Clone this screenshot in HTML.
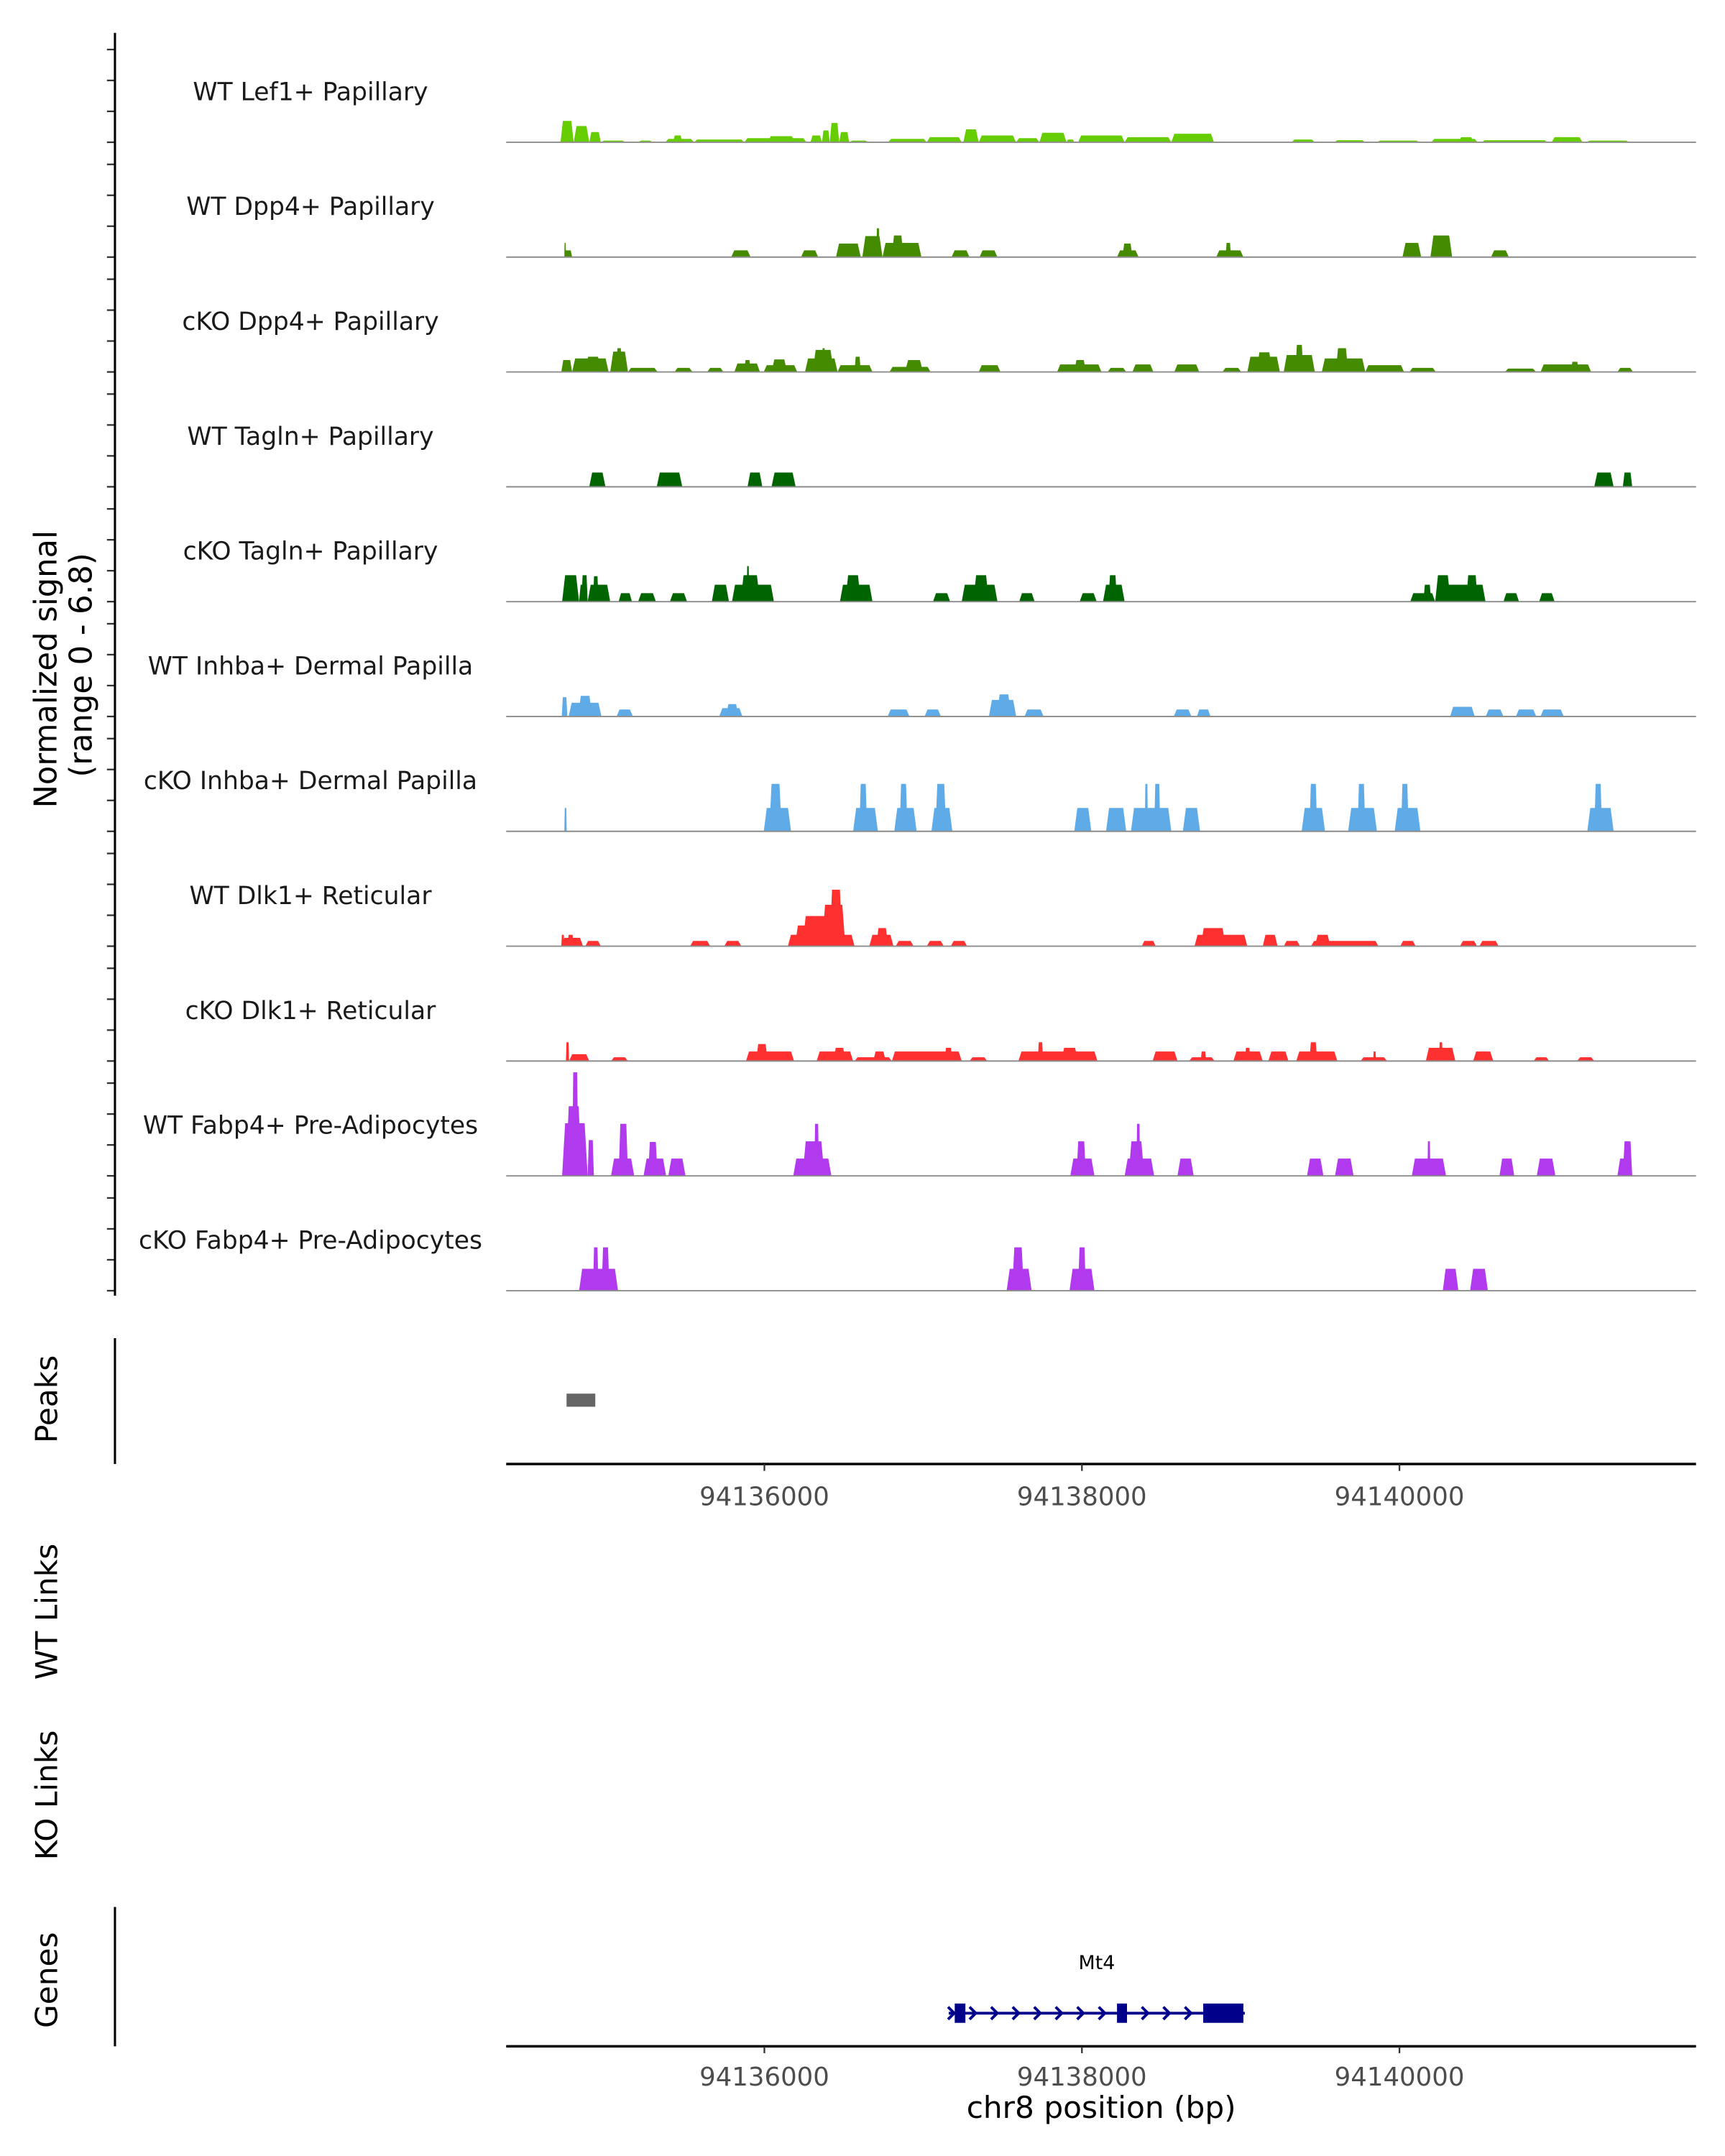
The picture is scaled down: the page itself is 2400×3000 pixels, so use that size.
<!DOCTYPE html>
<html><head><meta charset="utf-8"><style>
html,body{margin:0;padding:0;background:#fff}
svg{display:block}
text{font-family:"DejaVu Sans","Liberation Sans",sans-serif}
</style></head><body>
<svg id="chart" xmlns="http://www.w3.org/2000/svg" width="2400" height="3000" viewBox="0 0 1250 1562.5">
<g>
<text x="41" y="485" transform="rotate(-90 41 485)" text-anchor="middle" font-size="22.5" fill="#000">Normalized signal</text>
<text x="66.5" y="482" transform="rotate(-90 66.5 482)" text-anchor="middle" font-size="22.5" fill="#000">(range 0 - 6.8)</text>
</g>
<g id="tracks"></g>
<g id="axes"></g>
</svg>
<script>
const trackNames = ["WT Lef1+ Papillary","WT Dpp4+ Papillary","cKO Dpp4+ Papillary","WT Tagln+ Papillary","cKO Tagln+ Papillary","WT Inhba+ Dermal Papilla","cKO Inhba+ Dermal Papilla","WT Dlk1+ Reticular","cKO Dlk1+ Reticular","WT Fabp4+ Pre-Adipocytes","cKO Fabp4+ Pre-Adipocytes"];
const trackColors = ["#66cd00","#458b00","#458b00","#006400","#006400","#5eabe8","#5eabe8","#ff3030","#ff3030","#b23aee","#b23aee"];
const wtLef1 = [[94134716,94134799,1.26],[94134799,94134897,0.96],[94134897,94134970,0.6],[94134970,94135126,0.1],[94135205,94135297,0.1],[94135376,94135557,0.2],[94135425,94135483,0.4],[94135557,94135874,0.16],[94135874,94136265,0.24],[94136021,94136192,0.36],[94136290,94136363,0.4],[94136363,94136412,0.7],[94136412,94136471,1.14],[94136471,94136534,0.6],[94136534,94136656,0.1],[94136779,94137023,0.2],[94137023,94137243,0.3],[94137253,94137350,0.76],[94137350,94137585,0.4],[94137585,94137732,0.24],[94137732,94137903,0.56],[94137903,94137952,0.16],[94137976,94138269,0.4],[94138269,94138563,0.3],[94138563,94138832,0.5],[94139320,94139467,0.16],[94139589,94139785,0.12],[94139858,94140127,0.1],[94140200,94140493,0.2],[94140371,94140469,0.3],[94140518,94140933,0.12],[94140958,94141153,0.3],[94141178,94141447,0.1]];
const wtDpp4 = [[94134740,94134789,0.4],[94134740,94134750,0.84],[94135791,94135913,0.4],[94136231,94136339,0.4],[94136451,94136607,0.8],[94136617,94136744,1.24],[94136705,94136725,1.7],[94136744,94136989,0.84],[94136803,94136876,1.28],[94137179,94137292,0.4],[94137355,94137468,0.4],[94138221,94138357,0.4],[94138255,94138318,0.8],[94138846,94139017,0.4],[94138905,94138939,0.84],[94140019,94140137,0.84],[94140195,94140332,1.28],[94140577,94140689,0.4]];
const ckoDpp4 = [[94134721,94134789,0.7],[94134789,94135019,0.8],[94134872,94134970,0.9],[94135029,94135141,1.2],[94135068,94135102,1.4],[94135141,94135327,0.24],[94135434,94135547,0.24],[94135640,94135742,0.24],[94135811,94135972,0.5],[94135874,94135913,0.7],[94135996,94136207,0.4],[94136045,94136143,0.74],[94136256,94136461,0.8],[94136304,94136436,1.3],[94136363,94136383,1.4],[94136461,94136681,0.4],[94136568,94136607,0.9],[94136788,94137047,0.3],[94136886,94136999,0.7],[94137350,94137487,0.4],[94137844,94138123,0.44],[94137952,94138025,0.7],[94138162,94138279,0.24],[94138318,94138450,0.44],[94138582,94138739,0.44],[94138885,94139003,0.24],[94139042,94139247,0.9],[94139100,94139198,1.16],[94139271,94139467,1.0],[94139345,94139394,1.6],[94139511,94139785,0.8],[94139599,94139677,1.4],[94139785,94140029,0.4],[94140063,94140229,0.24],[94140665,94140860,0.2],[94140889,94141207,0.44],[94141080,94141129,0.6],[94141373,94141471,0.24]];
const wtTagln = [[94134897,94134999,0.84],[94135322,94135483,0.84],[94135894,94135987,0.84],[94136045,94136197,0.84],[94141227,94141349,0.84],[94141407,94141466,0.84]];
const ckoTagln = [[94134726,94134833,1.56],[94134833,94134887,1.0],[94134848,94134887,1.56],[94134887,94135029,1.0],[94134921,94134955,1.5],[94135082,94135166,0.5],[94135205,94135317,0.5],[94135405,94135513,0.5],[94135669,94135777,1.0],[94135796,94136060,1.0],[94135850,94135972,1.56],[94135889,94135904,2.1],[94136476,94136681,1.0],[94136510,94136607,1.56],[94137062,94137170,0.5],[94137243,94137468,1.0],[94137316,94137414,1.56],[94137605,94137702,0.5],[94137986,94138093,0.5],[94138133,94138269,1.0],[94138167,94138221,1.56],[94140068,94140225,0.5],[94140151,94140200,1.0],[94140225,94140542,1.0],[94140225,94140322,1.56],[94140420,94140493,1.56],[94140655,94140753,0.5],[94140880,94140977,0.5]];
const wtInhba = [[94134724,94134759,1.14],[94134767,94134974,0.81],[94134828,94134914,1.22],[94135069,94135172,0.41],[94135716,94135862,0.49],[94135759,94135836,0.73],[94136776,94136914,0.41],[94137009,94137112,0.41],[94137414,94137586,0.98],[94137466,94137552,1.3],[94137638,94137759,0.41],[94138578,94138690,0.41],[94138724,94138810,0.41],[94140319,94140474,0.57],[94140543,94140655,0.41],[94140733,94140862,0.41],[94140888,94141035,0.41]];
const ckoInhba = [[94134740,94134755,1.38],[94135996,94136168,1.38],[94136031,94136109,2.8],[94136559,94136715,1.38],[94136598,94136647,2.8],[94136818,94136959,1.38],[94136852,94136901,2.8],[94137052,94137184,1.38],[94137077,94137145,2.8],[94137952,94138059,1.38],[94138152,94138279,1.38],[94138309,94138563,1.38],[94138396,94138416,2.8],[94138455,94138494,2.8],[94138636,94138744,1.38],[94139384,94139531,1.38],[94139433,94139482,2.8],[94139677,94139858,1.38],[94139736,94139785,2.8],[94139970,94140132,1.38],[94140010,94140058,2.8],[94141183,94141349,1.38],[94141227,94141276,2.8]];
const wtDlk1 = [[94134721,94134858,0.49],[94134721,94134740,0.67],[94134760,94134799,0.67],[94134872,94134970,0.31],[94135532,94135659,0.31],[94135747,94135855,0.31],[94136148,94136568,0.67],[94136192,94136510,1.22],[94136241,94136412,1.78],[94136363,94136510,2.44],[94136412,94136490,3.33],[94136661,94136813,0.67],[94136705,94136779,1.07],[94136827,94136940,0.31],[94137023,94137130,0.31],[94137174,94137277,0.31],[94138377,94138465,0.31],[94138709,94139042,0.67],[94138748,94138905,1.07],[94139139,94139232,0.67],[94139271,94139374,0.31],[94139443,94139868,0.31],[94139467,94139565,0.67],[94140005,94140102,0.31],[94140381,94140489,0.31],[94140503,94140625,0.31]];
const ckoDlk1 = [[94134750,94134770,1.11],[94134770,94134897,0.4],[94135034,94135141,0.22],[94135884,94136187,0.56],[94135948,94136021,1.0],[94136329,94136559,0.56],[94136436,94136510,0.78],[94136568,94136803,0.22],[94136686,94136764,0.56],[94136803,94137243,0.56],[94137135,94137184,0.78],[94137292,94137404,0.22],[94137600,94138098,0.56],[94137722,94137756,1.11],[94137869,94137976,0.78],[94138445,94138602,0.56],[94138675,94138836,0.22],[94138748,94138783,0.56],[94138954,94139139,0.56],[94139027,94139061,0.78],[94139174,94139301,0.56],[94139350,94139609,0.56],[94139433,94139482,1.11],[94139755,94139922,0.22],[94139834,94139853,0.56],[94140166,94140352,0.78],[94140249,94140273,1.11],[94140464,94140591,0.56],[94140845,94140943,0.22],[94141119,94141227,0.22]];
const wtFabp4 = [[94134726,94134887,3.11],[94134750,94134848,4.11],[94134789,94134828,6.11],[94134887,94134926,2.11],[94135034,94135180,1.02],[94135082,94135141,3.07],[94135239,94135381,1.02],[94135268,94135327,2.0],[94135395,94135503,1.02],[94136182,94136422,1.02],[94136241,94136378,2.04],[94136314,94136344,3.07],[94137927,94138079,1.02],[94137966,94138025,2.04],[94138269,94138455,1.02],[94138294,94138392,2.04],[94138343,94138367,3.07],[94138602,94138704,1.02],[94139418,94139521,1.02],[94139594,94139711,1.02],[94140078,94140293,1.02],[94140176,94140195,2.04],[94140630,94140723,1.02],[94140865,94140982,1.02],[94141373,94141466,1.02],[94141407,94141466,2.04]];
const ckoFabp4 = [[94134833,94135078,1.29],[94134921,94134955,2.56],[94134975,94135024,2.56],[94137526,94137683,1.29],[94137561,94137634,2.56],[94137922,94138079,1.29],[94137976,94138025,2.56],[94140273,94140371,1.29],[94140445,94140557,1.29]];
const trackSegments = [wtLef1,wtDpp4,ckoDpp4,wtTagln,ckoTagln,wtInhba,ckoInhba,wtDlk1,ckoDlk1,wtFabp4,ckoFabp4];
const signalTicks = [0,2,4,6];
const peakRegions = [[94134754,94134935]];
const geneName = ["Mt4"];
const geneSpan = [94137161,94139026];
const geneExons = [[94137199,94137266],[94138221,94138284],[94138764,94139017]];
const xTicks = [94136000,94138000,94140000];
const xTickLabels = ["94136000","94138000","94140000"];

const NS = "http://www.w3.org/2000/svg";
function xScale(bp){ return 553.9 + (bp - 94136000) * 0.11505; }
const unitPx = 12.28, tickPx = 11.2;
function baseY(i){ return 103.1 + i * 83.23; }
function yScale(i, v){ return baseY(i) - v * unitPx; }
function mk(tag, attrs, parent){ const e = document.createElementNS(NS, tag); for (const k in attrs) e.setAttribute(k, attrs[k]); parent.appendChild(e); return e; }
const tracks = document.getElementById('tracks');
const axes = document.getElementById('axes');
const X0 = 366.8, X1 = 1229;

const yl = mk('line', {x1:83.3, y1:23.8, x2:83.3, y2:939, stroke:'#000', 'stroke-width':1.6}, axes);



trackNames.forEach((name, i) => {
  const g = mk('g', {}, tracks);
  
  
  const lab = mk('text', {x:225, y:baseY(i) - 30.5, 'text-anchor':'middle', 'font-size':18, fill:'#1a1a1a'}, g);
  lab.textContent = name;
  
  
  signalTicks.forEach(t => {
    const tk = mk('line', {x1:77.5, x2:83.3, y1:baseY(i) - t * tickPx, y2:baseY(i) - t * tickPx, stroke:'#333', 'stroke-width':1.2}, g);
    
    
  });
  trackSegments[i].forEach(s => {
    const x1 = xScale(s[0]), x2 = xScale(s[1]);
    const r = Math.min((x2 - x1) * 0.18, 2.2);
    const yb = baseY(i), yt = yScale(i, s[2]);
    const p = mk('polygon', {points:`${x1},${yb} ${x1 + r},${yt} ${x2 - r},${yt} ${x2},${yb}`, fill:trackColors[i]}, g);
    
    
  });
  const bl = mk('line', {x1:X0, x2:X1, y1:baseY(i), y2:baseY(i), stroke:'#8c8c8c', 'stroke-width':1}, g);
  
  
});

function sideLabel(txt, cy, nm){
  const t = mk('text', {x:41.5, y:cy, transform:`rotate(-90 41.5 ${cy})`, 'text-anchor':'middle', 'font-size':22, fill:'#000'}, axes);
  t.textContent = txt;
  
  
}
sideLabel('Peaks', 1014, 'peaks-label');
sideLabel('WT Links', 1168, 'wt-links-label');
sideLabel('KO Links', 1301, 'ko-links-label');
sideLabel('Genes', 1435, 'genes-label');

const pa = mk('line', {x1:83.3, x2:83.3, y1:969.8, y2:1061, stroke:'#000', 'stroke-width':1.6}, axes);


peakRegions.forEach(pk => {
  const r = mk('rect', {x:xScale(pk[0]), y:1010, width:xScale(pk[1]) - xScale(pk[0]), height:9.5, fill:'#666'}, axes);
  
  
});

function xAxis(y, nm, off){
  const g = mk('g', {}, axes);
  
  
  mk('line', {x1:X0, x2:X1, y1:y, y2:y, stroke:'#000', 'stroke-width':1.8}, g);
  xTicks.forEach((t, k) => {
    const tk = mk('line', {x1:xScale(t), x2:xScale(t), y1:y, y2:y + 5, stroke:'#333', 'stroke-width':1.2}, g);
    
    
    const tl = mk('text', {x:xScale(t), y:y + off, 'text-anchor':'middle', 'font-size':18.5, fill:'#4d4d4d'}, g);
    tl.textContent = xTickLabels[k];
    
    
  });
}
xAxis(1061, 'peaks-x-axis', 30);
xAxis(1483, 'genes-x-axis', 28.5);

const ga = mk('line', {x1:83.3, x2:83.3, y1:1382, y2:1483, stroke:'#000', 'stroke-width':1.6}, axes);



const gg = mk('g', {}, axes);


const gx1 = xScale(geneSpan[0]), gx2 = xScale(geneSpan[1]);
mk('line', {x1:gx1, x2:gx2, y1:1459, y2:1459, stroke:'#00008b', 'stroke-width':2}, gg);
for (let cx = gx1 + 2; cx < gx2 - 4; cx += 15.6) {
  const ch = mk('polyline', {points:`${cx - 2.5},${1454.5} ${cx + 2},${1459} ${cx - 2.5},${1463.5}`, fill:'none', stroke:'#00008b', 'stroke-width':2}, gg);
  
  
}
geneExons.forEach(ex => {
  const r = mk('rect', {x:xScale(ex[0]), y:1452, width:xScale(ex[1]) - xScale(ex[0]), height:14, fill:'#00008b'}, gg);
  
  
});
const gl = mk('text', {x:(gx1 + gx2) / 2, y:1427, 'text-anchor':'middle', 'font-size':14, fill:'#000'}, gg);
gl.textContent = geneName[0];



const xt = mk('text', {x:798, y:1535, 'text-anchor':'middle', 'font-size':22, fill:'#000'}, axes);
xt.textContent = 'chr8 position (bp)';


</script>
</body></html>
